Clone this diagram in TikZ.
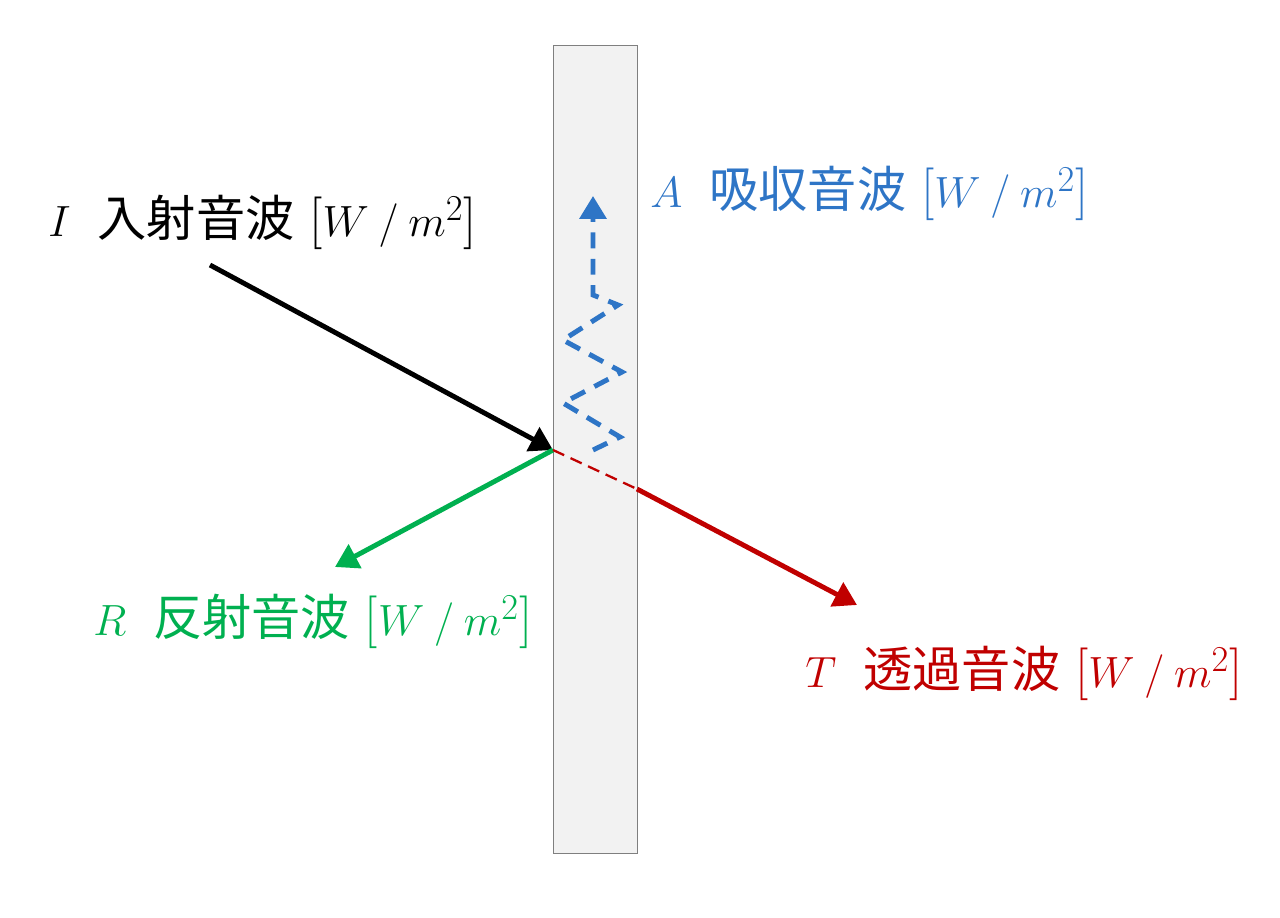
\documentclass[tikz,border=0pt]{standalone}
\usepackage{fontspec}
\newfontfamily\cjk{Noto Sans CJK JP}
\usetikzlibrary{arrows.meta}
\definecolor{wallfill}{HTML}{F2F2F2}
\definecolor{wallline}{HTML}{7F7F7F}
\definecolor{cgreen}{HTML}{00B050}
\definecolor{cred}{HTML}{C00000}
\definecolor{cblue}{HTML}{2E75C6}
\newcommand{\unitlbl}{{\fontsize{30}{34}\selectfont[$W\mkern4mu/\mkern4mu m^{2}$]}}
\newcommand{\symgap}{\hspace{0.55em}}
\tikzset{
  wave/.style={line width=2.8pt,-{Triangle[length=13pt,width=15pt]}},
  lbl/.style={font=\fontsize{28}{32}\selectfont, inner sep=0pt, anchor=west},
}
\begin{document}
\begin{tikzpicture}[x=0.02cm,y=-0.02cm]
\useasboundingbox (0,0) rectangle (1280,918);
\node[draw=wallline, fill=wallfill, line width=0.8pt, minimum width=84*0.02cm, minimum height=808*0.02cm, inner sep=0pt, anchor=north west] (wall) at (553,45) {};
\coordinate (iS) at (210,265);
\coordinate (hit) at (553,450);
\coordinate (exit) at (637,489);
\coordinate (tE) at (857,605);
\coordinate (rE) at (335,567);
\coordinate (z0) at (593,450);
\coordinate (z1) at (620,437);
\coordinate (z2) at (563,403);
\coordinate (z3) at (622,372);
\coordinate (z4) at (563,340);
\coordinate (z5) at (618,305);
\coordinate (z6) at (593,295);
\coordinate (aE) at (593,196);
\draw[wave, black] (iS) -- (hit);
\draw[wave, cgreen] (hit) -- (rE);
\draw[cred, line width=1.3pt, dashed, dash pattern=on 7pt off 4pt] (hit) -- (exit);
\draw[wave, cred] (exit) -- (tE);
\draw[wave, cblue, dashed, dash pattern=on 9pt off 6pt] (z0) -- (z1) -- (z2) -- (z3) -- (z4) -- (z5) -- (z6) -- (aE);
\node[lbl, black] (lI) at (48,222) {$I$\symgap{\cjk 入射音波} \unitlbl};
\node[lbl, cblue] (lA) at (650,193) {$A$\symgap{\cjk 吸収音波} \unitlbl};
\node[lbl, cgreen] (lR) at (93,621) {$R$\symgap{\cjk 反射音波} \unitlbl};
\node[lbl, cred] (lT) at (805,673) {$T$\symgap{\cjk 透過音波} \unitlbl};
\end{tikzpicture}
\end{document}
